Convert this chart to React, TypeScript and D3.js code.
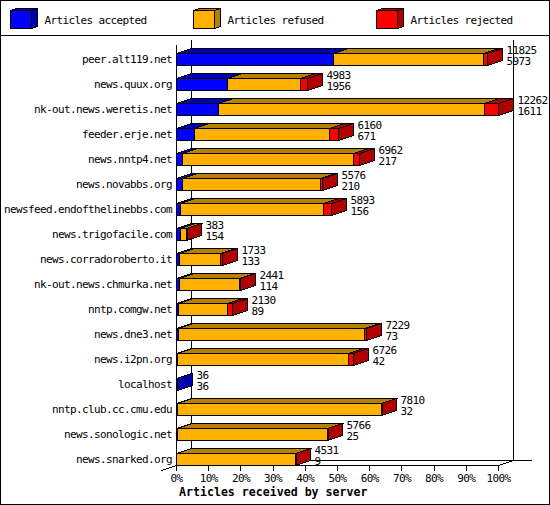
import React, { useEffect, useRef } from 'react'
import * as d3 from 'd3'

const servers = [
    'peer.alt119.net', 'news.quux.org', 'nk-out.news.weretis.net', 'feeder.erje.net', 'news.nntp4.net',
    'news.novabbs.org', 'newsfeed.endofthelinebbs.com', 'news.trigofacile.com', 'news.corradoroberto.it',
    'nk-out.news.chmurka.net', 'nntp.comgw.net', 'news.dne3.net', 'news.i2pn.org', 'localhost',
    'nntp.club.cc.cmu.edu', 'news.sonologic.net', 'news.snarked.org',
]
const received = [11825, 4983, 12262, 6160, 6962, 5576, 5893, 383, 1733, 2441, 2130, 7229, 6726, 36, 7810, 5766, 4531]
const accepted = [5973, 1956, 1611, 671, 217, 210, 156, 154, 133, 114, 89, 73, 42, 36, 32, 25, 9]
// not printed on the chart, read from the width of the red part
const rejected = [125, 280, 520, 317, 230, 90, 290, 10, 65, 50, 175, 60, 160, 0, 5, 6, 3]
const percents = [0, 10, 20, 30, 40, 50, 60, 70, 80, 90, 100]

const legendLabels = ['Articles accepted', 'Articles refused', 'Articles rejected']
const frontColors = ['#0000ff', '#ffb000', '#ff0000']
const shadeColors = ['#0000b0', '#b88000', '#b00000']

const MONO = '"DejaVu Sans Mono", monospace'
const DX = 15
const DY = 5

const App: React.FC = () => {
    const svgRef = useRef<SVGSVGElement>(null)

    useEffect(() => {
        if (!svgRef.current) return
        const svg = d3.select(svgRef.current)
        svg.selectAll('*').remove()

        const maxValue = d3.max(received) as number
        const pct = d3.scaleLinear().domain([0, 100]).range([176.5, 498.5])
        const val = d3.scaleLinear().domain([0, maxValue]).range([176.5, 498.5])
        const px = (v: number) => Math.round(val(v) - 0.5) + 0.5
        const band = d3.scaleBand<string>().domain(servers).range([53, 478]).paddingInner(0)
        const bar = (s: string) => (band(s) as number) + 0.5

        const shapes = svg.append('g').attr('shape-rendering', 'crispEdges')
        const line = (x1: number, y1: number, x2: number, y2: number) =>
            shapes.append('line').attr('x1', x1).attr('y1', y1).attr('x2', x2).attr('y2', y2).attr('stroke', '#000')
        const poly = (pts: number[][], fill: string) =>
            shapes.append('polygon').attr('points', pts.map(p => p.join(',')).join(' ')).attr('fill', fill).attr('stroke', '#000')

        // frame
        shapes.append('rect').attr('x', 0.5).attr('y', 0.5).attr('width', 549).attr('height', 504).attr('fill', '#fff').attr('stroke', '#000')
        line(0, 35.5, 550, 35.5)

        const mono = (g: d3.Selection<any, any, any, any>) =>
            g.attr('font-family', MONO).attr('font-size', 11).attr('letter-spacing', -0.62).attr('fill', '#000')

        // legend
        const legendText = svg.append('g').call(mono)
        legendLabels.forEach((label, i) => {
            const x = 10.5 + i * 183
            poly([[x, 10.5], [x + 6, 8.5], [x + 27, 8.5], [x + 21, 10.5]], shadeColors[i])
            poly([[x + 21, 10.5], [x + 27, 8.5], [x + 27, 26.5], [x + 21, 28.5]], shadeColors[i])
            poly([[x, 10.5], [x + 21, 10.5], [x + 21, 28.5], [x, 28.5]], frontColors[i])
            legendText.append('text').attr('x', x + 34).attr('y', 24).text(label)
        })

        // walls and axes
        line(191.5, 40, 191.5, 460.5)
        line(513.5, 40, 513.5, 460.5)
        line(191.5, 460.5, 532, 460.5)
        line(176.5, 45, 176.5, 465.5)
        line(176.5, 465.5, 498.5, 465.5)
        line(498.5, 465.5, 513.5, 460.5)
        line(176.5, 465.5, 161.5, 470.5)
        percents.forEach(p => {
            const x = Math.round(pct(p) - 0.5) + 0.5
            line(x, 465.5, x, 470.5)
        })

        // bars
        servers.forEach((s, i) => {
            const top = bar(s)
            const bottom = top + 12
            const refused = received[i] - accepted[i] - rejected[i]
            const parts = [accepted[i], refused, rejected[i]]
            let sum = 0
            let lastShade = shadeColors[0]
            parts.forEach((v, k) => {
                if (v <= 0) return
                const x0 = px(sum)
                sum += v
                const x1 = Math.max(px(sum), x0 + 1)
                lastShade = shadeColors[k]
                poly([[x0, top], [x0 + DX, top - DY], [x1 + DX, top - DY], [x1, top]], shadeColors[k])
            })
            const xEnd = Math.max(px(sum), px(0) + 1)
            poly([[xEnd, top], [xEnd + DX, top - DY], [xEnd + DX, bottom - DY], [xEnd, bottom]], lastShade)
            sum = 0
            parts.forEach((v, k) => {
                if (v <= 0) return
                const x0 = px(sum)
                sum += v
                const x1 = Math.max(px(sum), x0 + 1)
                shapes.append('rect').attr('x', x0).attr('y', top).attr('width', x1 - x0).attr('height', 12)
                    .attr('fill', frontColors[k]).attr('stroke', '#000')
            })
        })

        // text
        const text = svg.append('g').call(mono)
        servers.forEach((s, i) => {
            const top = bar(s) - 0.5
            text.append('text').attr('x', 172).attr('y', top + 10).attr('text-anchor', 'end').text(s)
            const x = px(received[i]) + 19
            text.append('text').attr('x', x).attr('y', top + 1).text(received[i])
            text.append('text').attr('x', x).attr('y', top + 12).text(accepted[i])
        })
        percents.forEach(p => {
            text.append('text').attr('x', pct(p)).attr('y', 482).attr('text-anchor', 'middle').text(`${p}%`)
        })
        text.append('text').attr('x', 179).attr('y', 495.5)
            .attr('font-weight', 'bold').attr('font-size', 11.6).attr('letter-spacing', 0)
            .text('Articles received by server')
    }, [])

    return (
        <>
            <style>{'body{margin:0}'}</style>
            <svg ref={svgRef} width={550} height={505} style={{ display: 'block' }} />
        </>
    )
}

export default App
